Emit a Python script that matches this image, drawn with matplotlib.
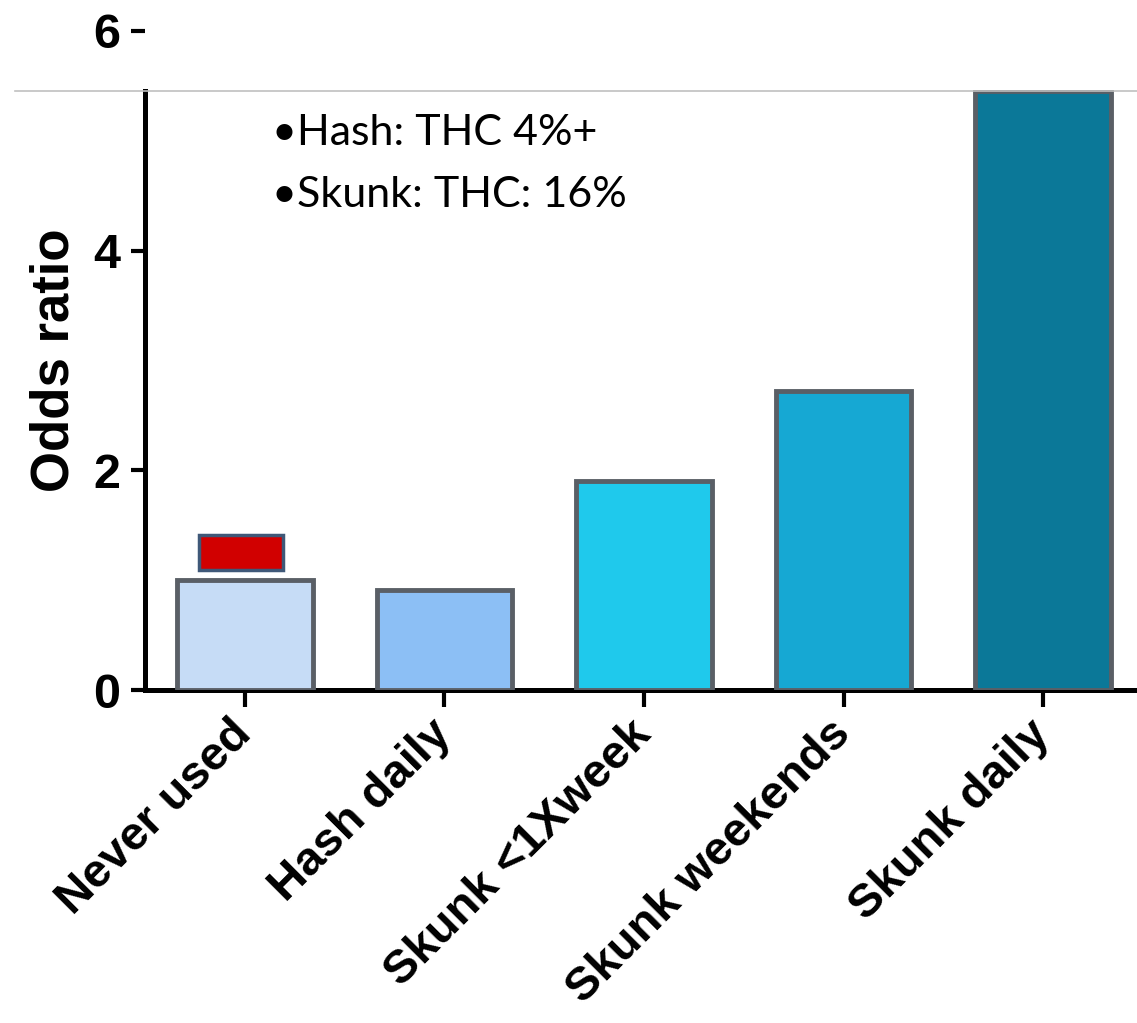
import matplotlib
matplotlib.use("Agg")
import matplotlib.pyplot as plt
from matplotlib.patches import Rectangle
import matplotlib.transforms as mtransforms

# datos
categorias = ['Never used', 'Hash daily', 'Skunk <1Xweek', 'Skunk weekends', 'Skunk daily']
odds_ratio = [1.0, 0.91, 1.9, 2.72, 5.45]
colores = ['#c6dcf6', '#8cbff5', '#1fc9ec', '#16a8d3', '#0b7898']
# marcador rojo sobre "Never used"
rojo_bajo = [1.09]
rojo_alto = [1.41]
notas = ['\u2022Hash: THC 4%+', '\u2022Skunk: THC: 16%']
corte = 5.45

fig = plt.figure(figsize=(11.37, 10.23), dpi=100)
ax = fig.add_axes([145 / 1137, 333 / 1023, 992 / 1137, 659 / 1023])

x = list(range(len(categorias)))
ax.bar(x, odds_ratio, width=0.68, color=colores, edgecolor='#5a5f66', linewidth=3.5, zorder=3)
ax.bar([-0.02], [rojo_alto[0] - rojo_bajo[0]], bottom=rojo_bajo, width=0.42,
       color='#d10000', edgecolor='#3f5878', linewidth=2.5, zorder=3)

ax.set_xlim(-0.5, 4.47)
ax.set_ylim(0, 6)
ax.set_yticks([0, 2, 4, 6])
ax.set_xticks(x)
ax.set_xticklabels(categorias, rotation=45, ha='right', va='center', rotation_mode='anchor')

for s in ['top', 'right']:
    ax.spines[s].set_visible(False)
ax.spines['left'].set_bounds(0, corte)
ax.spines['left'].set_linewidth(3.6)
ax.spines['bottom'].set_linewidth(3.6)

ax.tick_params(axis='y', length=10, width=3, pad=8, labelsize=35)
ax.tick_params(axis='x', length=12, width=3, pad=15, labelsize=34)
for lab in ax.get_xticklabels() + ax.get_yticklabels():
    lab.set_fontfamily('Liberation Sans')
    lab.set_fontweight('bold')

ax.set_ylabel('Odds ratio', fontsize=38, fontweight='bold', family='Liberation Sans', labelpad=10)

# la parte de arriba del grafico esta tapada
tr = mtransforms.blended_transform_factory(ax.transAxes, ax.transData)
ax.add_patch(Rectangle((0.005, corte + 0.01), 1.0, 6 - corte, transform=tr,
                       facecolor='white', edgecolor='none', zorder=10, clip_on=False))
ax.plot([-0.131, 1.0], [corte, corte], transform=tr, color='#c0c0c0', lw=1.2,
        zorder=11, clip_on=False)

ax.text(0.128, 0.798, notas[0] + '\n' + notas[1], transform=ax.transAxes, fontsize=31,
        family='Lato', va='center', ha='left', linespacing=1.75, zorder=12)

fig.savefig('out.png', dpi=100, facecolor='white')
